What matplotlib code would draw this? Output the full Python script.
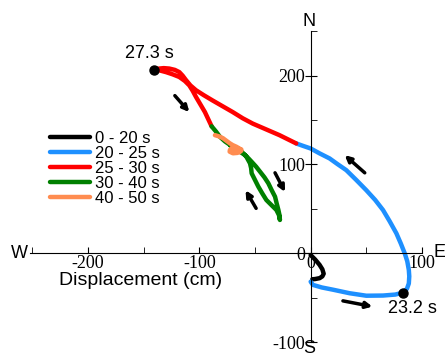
import numpy as np
import matplotlib
matplotlib.use('Agg')
from matplotlib import pyplot as plt
from matplotlib.ticker import FixedLocator, FixedFormatter

# trajectory pieces (displacement in cm, x = east, y = north)
seg_labels = ['0 - 20 s', '20 - 25 s', '25 - 30 s', '30 - 40 s', '40 - 50 s']
seg_colors = ['black', '#1e90ff', '#ff0000', '#008000', '#ff8c50']

x_0_20 = [0, 4, 8, 10.5, 11.7, 10.5, 8.1, 4, 1.5]
y_0_20 = [-2, -7, -13, -18, -23, -26, -28, -29, -29.3]

x_20_25 = [0, 2, 10, 20, 35, 50, 65, 76, 83, 86.5, 88.2, 88.6, 88.2, 86.8, 84.5, 81, 77,
           71, 65, 58, 50, 41, 32, 24, 17, 8, 0, -7, -13]
y_20_25 = [-32, -35.6, -38.5, -41, -45, -47.8, -47.6, -46.5, -44.3, -40, -34, -26, -18.8, -9, 0, 11, 22.5,
           36, 48.7, 60, 71, 82.5, 93.6, 100.5, 106.8, 112.5, 118, 121, 123.7]

x_25_30 = [-13, -28, -40, -52, -61, -70, -79, -88, -96, -103, -108, -112, -115, -118, -122, -127,
           -132, -136, -140, -136, -130, -124, -118, -113, -109, -106, -103, -99, -95, -92, -89]
y_25_30 = [123.7, 133, 139.5, 146, 152, 159, 165.5, 172, 178, 183.6, 189, 195, 200, 204, 206.5, 208,
           208.5, 208, 207, 206, 204, 201.5, 198.5, 194, 189, 183, 176, 167.5, 159, 151, 143]

x_30_40 = [-89, -85, -81.4, -77, -72.4, -67, -62, -57.8, -54.5, -53.5, -53, -50, -47, -43.5, -39.8, -35, -30.8, -28.5, -27.6,
           -28, -29, -30.5, -32, -35, -38, -41.5, -45.5, -49, -53, -56, -59, -62.5, -66, -69, -72]
y_30_40 = [143, 137, 131, 126, 122, 118, 114.4, 108.8, 101.3, 96, 90, 82.5, 75, 67.5, 60, 54, 48.8, 43, 37.5,
           43, 48.8, 56, 63.7, 71, 78.8, 85.5, 91.9, 97.5, 103, 107, 110.7, 113.5, 116, 118.5, 121]

x_40_50 = [-86, -82, -78.7, -75.5, -72.7, -70, -66.8, -64, -62.3, -64, -66, -69.8, -72.8, -72.5, -71.3, -66, -62.3]
y_40_50 = [133, 131.5, 129.5, 126.5, 123.9, 121.8, 120, 118, 115.5, 113.8, 113, 112.6, 114.4, 116.5, 118, 117.5, 117]

seg_x = [x_0_20, x_20_25, x_25_30, x_30_40, x_40_50]
seg_y = [y_0_20, y_20_25, y_25_30, y_30_40, y_40_50]

# marked time points
dot_x = [83, -141]
dot_y = [-44.3, 206]
dot_text = ['23.2 s', '27.3 s']
dot_text_x = [91, -145]
dot_text_y = [-62, 225]

# direction arrows (tail -> head)
arrow_x0 = [-122, 48.6, -32, -49, 29]
arrow_y0 = [177.5, 90.6, 90.6, 50.6, -53.6]
arrow_x1 = [-109, 30.6, -23, -58.5, 55.5]
arrow_y1 = [159, 110.5, 69, 71, -60]

xticks = [-200, -100, 0, 100]
yticks = [-100, 0, 100, 200]

plt.rcParams['font.family'] = ['Liberation Sans', 'DejaVu Sans']

fig = plt.figure(figsize=(4.45, 3.53), dpi=100)
ax = fig.add_axes([0, 0, 1, 1])
ax.set_xlim(-279.1, 120.7)
ax.set_ylim(-112.3, 285.2)

for xs, ys, c, lab in zip(seg_x, seg_y, seg_colors, seg_labels):
    ax.plot(xs, ys, color=c, lw=3.2, solid_capstyle='round', solid_joinstyle='round', label=lab)

ax.plot(dot_x, dot_y, 'o', color='black', ms=6.5)
for tx, ty, t in zip(dot_text_x, dot_text_y, dot_text):
    ax.text(tx, ty, t, fontsize=13, ha='center', va='center')

for x0, y0, x1, y1 in zip(arrow_x0, arrow_y0, arrow_x1, arrow_y1):
    ax.annotate('', xy=(x1, y1), xytext=(x0, y0),
                arrowprops=dict(arrowstyle='-|>', color='black', lw=2.5,
                                mutation_scale=9, shrinkA=0, shrinkB=0))

# cross shaped axes through the origin
for s in ['top', 'right']:
    ax.spines[s].set_visible(False)
ax.spines['left'].set_position(('data', 0))
ax.spines['bottom'].set_position(('data', 0))
ax.spines['left'].set_bounds(-100, 250)
ax.spines['bottom'].set_bounds(-252, 100)

ax.xaxis.set_major_locator(FixedLocator(xticks))
ax.xaxis.set_major_formatter(FixedFormatter([str(v) for v in xticks]))
ax.xaxis.set_minor_locator(FixedLocator([-250, -150, -50, 50]))
ax.yaxis.set_major_locator(FixedLocator(yticks))
ax.yaxis.set_major_formatter(FixedFormatter([str(v) for v in yticks]))
ax.yaxis.set_minor_locator(FixedLocator([-50, 50, 150, 250]))
ax.tick_params(axis='x', which='both', direction='in', length=4, pad=1)
ax.tick_params(axis='y', which='major', direction='inout', length=8, pad=0)
ax.tick_params(axis='y', which='minor', direction='in', length=4)
for lab in ax.get_xticklabels() + ax.get_yticklabels():
    lab.set_family('Liberation Serif')
    lab.set_fontsize(13)

ax.text(-153, -31, 'Displacement (cm)', fontsize=14, ha='center', va='center')
ax.text(-1.5, 261.5, 'N', fontsize=13, ha='center', va='center')
ax.text(115.4, 1, 'E', fontsize=13, ha='center', va='center')
ax.text(-262, 0, 'W', fontsize=13, ha='center', va='center')
ax.text(-1, -107, 'S', fontsize=13, ha='center', va='center')

ax.legend(loc='upper left', bbox_to_anchor=(0.112, 0.63), frameon=False,
          fontsize=12, handlelength=2.4, handletextpad=0.3, labelspacing=0.0,
          borderpad=0, borderaxespad=0)

fig.savefig('out.png', dpi=100)
